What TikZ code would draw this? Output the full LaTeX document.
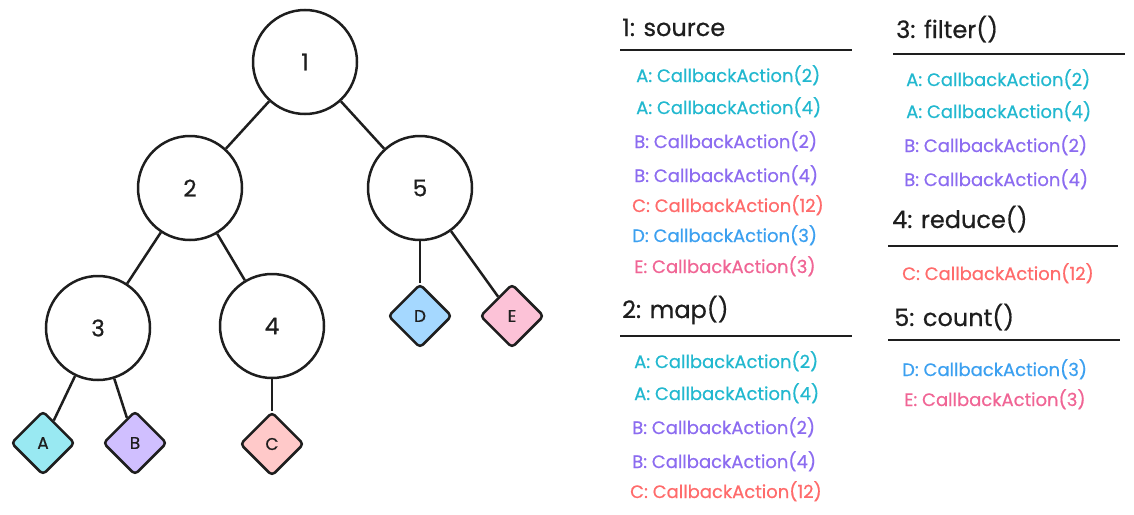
\documentclass[tikz,border=0pt]{standalone}
\usepackage{fontspec}
\setmainfont{Poppins}[FakeBold=0.6]
\usetikzlibrary{shapes.geometric}
\definecolor{ink}{HTML}{1E1E1E}
\definecolor{cA}{HTML}{22B8CF}
\definecolor{cB}{HTML}{8C6CF0}
\definecolor{cC}{HTML}{FF6B6B}
\definecolor{cD}{HTML}{3CA0F0}
\definecolor{cE}{HTML}{F06595}
\definecolor{fA}{HTML}{99E9F2}
\definecolor{fB}{HTML}{D0BFFF}
\definecolor{fC}{HTML}{FFC9C9}
\definecolor{fD}{HTML}{A5D8FF}
\definecolor{fE}{HTML}{FCC2D7}
\tikzset{
  opnode/.style={circle, draw=ink, line width=2.5pt, fill=white, minimum size=104pt, inner sep=0pt, font=\fontsize{23}{26}\selectfont, text=ink},
  leaf/.style={diamond, draw=ink, line width=2.5pt, rounded corners=4pt, minimum width=64pt, minimum height=64pt, inner sep=0pt, aspect=1, font=\fontsize{17}{19}\selectfont, text=ink},
  edge/.style={draw=ink, line width=2.5pt},
  head/.style={anchor=base west, inner sep=0pt, font=\fontsize{24}{28}\selectfont, text=ink},
  item/.style={anchor=base west, inner sep=0pt, font=\fontsize{18}{20}\selectfont},
  rule/.style={draw=ink, line width=1.8pt}
}
\begin{document}
\begin{tikzpicture}[x=1pt,y=-1pt]
\useasboundingbox (0,0) rectangle (1134,514);
% tree nodes
\node[opnode] (n1) at (305,62) {1};
\node[opnode] (n2) at (190,188) {2};
\node[opnode] (n5) at (420,188) {5};
\node[opnode] (n3) at (98,328) {3};
\node[opnode] (n4) at (272,326) {4};
\node[leaf, fill=fA] (lA) at (43,443) {A};
\node[leaf, fill=fB] (lB) at (135,443) {B};
\node[leaf, fill=fC] (lC) at (272,444) {C};
\node[leaf, fill=fD] (lD) at (420,316) {D};
\node[leaf, fill=fE] (lE) at (512,316) {E};
% edges
\draw[edge] (n1) -- (n2);
\draw[edge] (n1) -- (n5);
\draw[edge] (n2) -- (n3);
\draw[edge] (n2) -- (n4);
\draw[edge] (n5) -- (lD);
\draw[edge] (n5) -- (lE);
\draw[edge] (n3) -- (lA);
\draw[edge] (n3) -- (lB);
\draw[edge] (n4) -- (lC);
% list 1: source
\node[head] (h1) at (622,36) {1: source};
\coordinate (r1a) at (620,50); \coordinate (r1b) at (852,50);
\draw[rule] (r1a) -- (r1b);
\node[item, text=cA] (s1) at (636,82) {A: CallbackAction(2)};
\node[item, text=cA] (s2) at (636,114) {A: CallbackAction(4)};
\node[item, text=cB] (s3) at (634,148) {B: CallbackAction(2)};
\node[item, text=cB] (s4) at (634,182) {B: CallbackAction(4)};
\node[item, text=cC] (s5) at (632,212) {C: CallbackAction(12)};
\node[item, text=cD] (s6) at (632,242) {D: CallbackAction(3)};
\node[item, text=cE] (s7) at (634,273) {E: CallbackAction(3)};
% list 2: map
\node[head] (h2) at (622,318) {2: map()};
\coordinate (r2a) at (620,336); \coordinate (r2b) at (852,336);
\draw[rule] (r2a) -- (r2b);
\node[item, text=cA] (m1) at (634,368) {A: CallbackAction(2)};
\node[item, text=cA] (m2) at (634,400) {A: CallbackAction(4)};
\node[item, text=cB] (m3) at (632,434) {B: CallbackAction(2)};
\node[item, text=cB] (m4) at (632,468) {B: CallbackAction(4)};
\node[item, text=cC] (m5) at (630,498) {C: CallbackAction(12)};
% list 3: filter
\node[head] (h3) at (896,38) {3: filter()};
\coordinate (r3a) at (893,54); \coordinate (r3b) at (1125,54);
\draw[rule] (r3a) -- (r3b);
\node[item, text=cA] (f1) at (906,86) {A: CallbackAction(2)};
\node[item, text=cA] (f2) at (906,118) {A: CallbackAction(4)};
\node[item, text=cB] (f3) at (904,152) {B: CallbackAction(2)};
\node[item, text=cB] (f4) at (904,186) {B: CallbackAction(4)};
% list 4: reduce
\node[head] (h4) at (892,228) {4: reduce()};
\coordinate (r4a) at (888,246); \coordinate (r4b) at (1118,246);
\draw[rule] (r4a) -- (r4b);
\node[item, text=cC] (d1) at (902,280) {C: CallbackAction(12)};
% list 5: count
\node[head] (h5) at (894,326) {5: count()};
\coordinate (r5a) at (888,340); \coordinate (r5b) at (1120,340);
\draw[rule] (r5a) -- (r5b);
\node[item, text=cD] (c1) at (902,376) {D: CallbackAction(3)};
\node[item, text=cE] (c2) at (904,406) {E: CallbackAction(3)};
\end{tikzpicture}
\end{document}
